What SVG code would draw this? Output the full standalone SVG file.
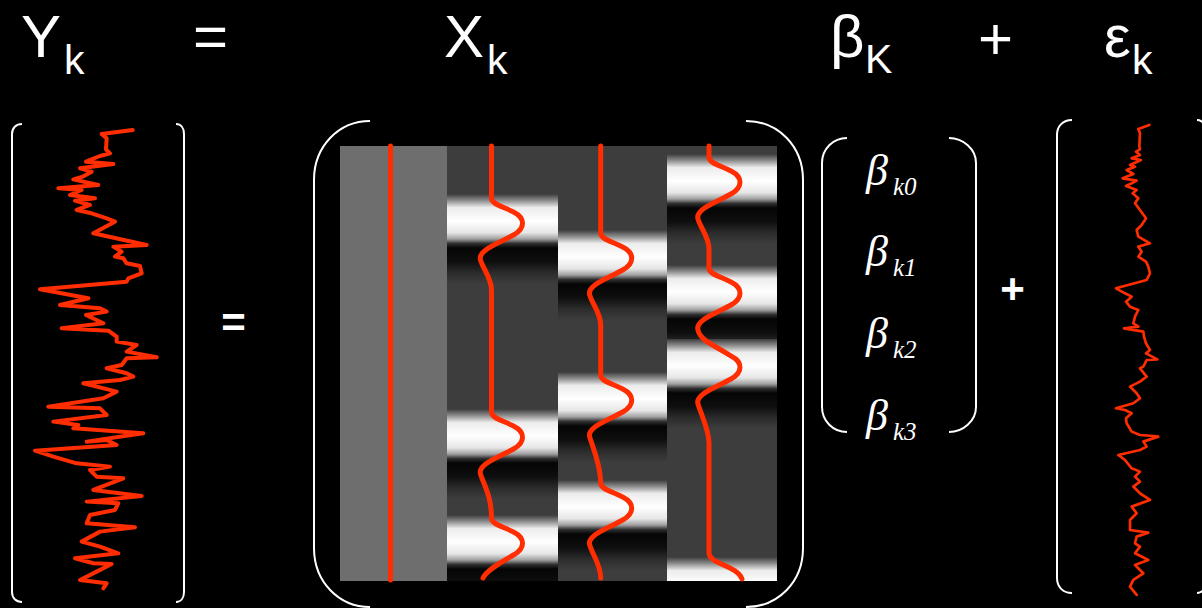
<svg xmlns="http://www.w3.org/2000/svg" width="1202" height="608" viewBox="0 0 1202 608">
<style>
.hd{font-family:"Liberation Sans",Arial,sans-serif;font-weight:normal;fill:#fff}
.big{font-size:60px}
.sub{font-size:41px}
.op{font-family:"Liberation Sans",Arial,sans-serif;font-weight:bold;fill:#fff;font-size:42px}
.br{fill:none;stroke:#fff;stroke-width:2}
.red{fill:none;stroke:#ff2d00;stroke-linejoin:round;stroke-linecap:round}
.bt{font-family:"Liberation Serif","Times New Roman",serif;font-style:italic;fill:#fff}
</style>
<defs>
<linearGradient id="hrf" x1="0" y1="0" x2="0" y2="1">
<stop offset="0" stop-color="#3d3d3d"/>
<stop offset="0.07" stop-color="#8a8a8a"/>
<stop offset="0.15" stop-color="#ececec"/>
<stop offset="0.3" stop-color="#ffffff"/>
<stop offset="0.43" stop-color="#e6e6e6"/>
<stop offset="0.5" stop-color="#a0a0a0"/>
<stop offset="0.55" stop-color="#303030"/>
<stop offset="0.6" stop-color="#050505"/>
<stop offset="0.75" stop-color="#0e0e0e"/>
<stop offset="0.88" stop-color="#2c2c2c"/>
<stop offset="1" stop-color="#3d3d3d"/>
</linearGradient>
<clipPath id="mclip"><rect x="340" y="146" width="437" height="435"/></clipPath>
</defs>
<rect width="1202" height="608" fill="#000"/>

<g id="header">
<text class="hd big" x="21" y="57">Y</text><text class="hd sub" x="64" y="74">k</text>
<text class="hd big" x="210.5" y="57" text-anchor="middle">=</text>
<text class="hd big" x="444" y="57">X</text><text class="hd sub" x="487" y="74">k</text>
<text class="hd big" x="830" y="57">β</text><text class="hd sub" x="865" y="73">K</text>
<text class="hd big" x="995.5" y="59" text-anchor="middle">+</text>
<text class="hd big" x="1104" y="57">ε</text><text class="hd sub" x="1132" y="74">k</text>
</g>

<g id="Y-vector">
<path class="br" d="M22,124 C16,124 12,128 12,134 V592 C12,598 16,602 22,602"/>
<path class="br" d="M176,124 C181,124 184,128 184,134 V592 C184,598 181,602 176,602"/>
<polyline class="red" stroke-width="12" transform="translate(0,110) scale(0.3333)" points="398,60 305,72 320,85 318,118 330,130 300,138 258,155 340,162 240,175 275,185 248,200 220,208 295,225 175,235 245,240 210,255 285,265 225,272 270,285 230,300 275,310 320,325 345,335 280,370 440,405 340,410 365,425 345,440 370,445 380,460 420,468 425,490 385,505 380,515 120,538 265,565 180,585 300,595 320,605 258,615 310,640 185,655 325,662 350,680 350,695 410,705 380,725 470,742 380,745 365,765 320,775 380,790 400,800 360,810 250,820 350,845 310,865 145,890 300,895 320,915 160,935 235,945 220,955 430,970 260,995 320,990 350,1005 105,1022 160,1040 230,1060 330,1070 270,1080 290,1100 370,1105 280,1140 425,1158 260,1175 355,1180 345,1200 270,1215 260,1240 405,1252 300,1265 245,1295 300,1310 355,1330 225,1345 280,1360 335,1362 290,1385 240,1410 320,1420 310,1435"/>
</g>

<text id="eq" class="op" x="233.5" y="337" text-anchor="middle">=</text>

<g id="X-matrix">
<path class="br" d="M370,121 C339,121 314,146 314,180 V548 C314,582 339,607 370,607"/>
<path class="br" d="M746,121 C778,121 803,146 803,180 V548 C803,582 778,607 746,607"/>
<g clip-path="url(#mclip)">
<rect x="340" y="146" width="107" height="435" fill="#6e6e6e"/>
<rect x="447" y="146" width="330" height="435" fill="#3d3d3d"/>
<rect x="447" y="194" width="111" height="90" fill="url(#hrf)"/>
<rect x="447" y="409" width="111" height="90" fill="url(#hrf)"/>
<rect x="447" y="515" width="111" height="90" fill="url(#hrf)"/>
<rect x="558" y="230" width="109" height="90" fill="url(#hrf)"/>
<rect x="558" y="372" width="109" height="90" fill="url(#hrf)"/>
<rect x="558" y="480" width="109" height="90" fill="url(#hrf)"/>
<rect x="667" y="154" width="110" height="90" fill="url(#hrf)"/>
<rect x="667" y="265" width="110" height="90" fill="url(#hrf)"/>
<rect x="667" y="339" width="110" height="90" fill="url(#hrf)"/>
<rect x="667" y="557" width="110" height="90" fill="url(#hrf)"/>
</g>
<line class="red" stroke-width="5" x1="390.5" y1="146" x2="390.5" y2="580"/>
<path class="red" stroke-width="5" d="M491.5,146 V198 C491.5,204 501.5,206 513.5,212 C525.5,218 525.5,228 513.5,235 C499.5,243 477.5,250 480.5,260 C483.5,270 491.5,278 491.5,290 V412 C491.5,418 501.5,420 513.5,426 C525.5,432 525.5,442 513.5,449 C499.5,457 477.5,464 480.5,474 C483.5,484 491.5,496 491.5,518 C491.5,524 501.5,526 513.5,532 C525.5,538 525.5,548 513.5,555 C501.5,562 486.5,570 483,578"/>
<path class="red" stroke-width="5" d="M600.7,146 V233 C600.7,239 610.7,241 622.7,247 C634.7,253 634.7,263 622.7,270 C608.7,278 586.7,285 589.7,295 C592.7,305 600.7,313 600.7,325 V375 C600.7,381 610.7,383 622.7,389 C634.7,395 634.7,405 622.7,412 C608.7,420 586.7,427 589.7,437 C592.7,447 600.7,465 600.7,483 C600.7,489 610.7,491 622.7,497 C634.7,503 634.7,513 622.7,520 C608.7,528 586.7,535 589.7,545 C592.7,555 600.7,565 600.7,578"/>
<path class="red" stroke-width="5" d="M709,146 V157 C709,163 719,165 731,171 C743,177 743,187 731,194 C717,202 695,209 698,219 C701,229 709,237 709,249 V268 C709,274 719,276 731,282 C743,288 743,298 731,305 C717,313 695,320 698,330 C700,340 712,344 731,356 C743,362 743,372 731,379 C717,387 695,394 698,404 C701,414 709,430 709,443 V553 C709,560 720,563 730,568 C738,572 741,576 742,579"/>
</g>

<g id="beta-vector">
<path class="br" d="M847,138 C833,138 822,149 822,163 V407 C822,421 833,432 847,432"/>
<path class="br" d="M949,138 C963,138 976,149 976,163 V407 C976,421 963,432 949,432"/>
<text class="bt" font-size="44" x="866" y="185">β</text><text class="bt" font-size="25" x="893" y="195">k0</text>
<text class="bt" font-size="44" x="866" y="266">β</text><text class="bt" font-size="25" x="893" y="276">k1</text>
<text class="bt" font-size="44" x="866" y="348">β</text><text class="bt" font-size="25" x="893" y="358">k2</text>
<text class="bt" font-size="44" x="866" y="430">β</text><text class="bt" font-size="25" x="893" y="440">k3</text>
</g>

<text id="plus" class="op" x="1012.5" y="303" text-anchor="middle">+</text>

<g id="epsilon-vector">
<path class="br" d="M1072,120 C1063,120 1057,126 1057,135 V578 C1057,587 1063,593 1072,593"/>
<path class="br" d="M1197,120 C1203,120 1207,126 1207,135 V578 C1207,587 1203,593 1197,593"/>
<polyline class="red" stroke-width="8" transform="translate(1040,110) scale(0.3333)" points="328,45 295,57 300,70 298,110 300,118 288,125 300,135 275,145 303,150 270,165 285,170 260,180 280,192 248,205 290,212 275,220 258,228 290,240 278,250 295,265 285,280 300,300 318,325 305,345 290,360 295,380 330,400 295,410 305,425 295,440 318,455 325,470 330,490 320,510 228,535 255,550 275,560 258,575 270,590 295,600 285,620 280,640 295,650 252,655 310,665 312,680 318,700 330,720 318,730 352,748 320,750 310,770 300,775 320,800 300,815 270,830 290,850 300,865 280,880 228,895 255,900 275,910 258,925 260,940 275,965 300,975 340,978 355,980 310,995 320,1010 300,1020 235,1035 255,1050 275,1075 300,1085 285,1100 300,1115 280,1130 300,1150 330,1170 275,1190 290,1210 270,1230 270,1260 325,1268 290,1280 285,1300 300,1310 285,1330 325,1350 285,1365 300,1380 310,1390 280,1410 270,1430 290,1455"/>
</g>
</svg>
